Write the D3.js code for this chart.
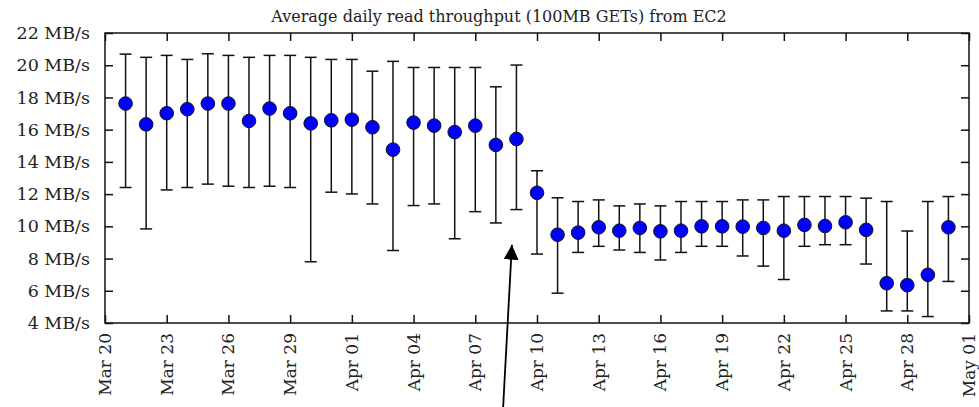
<!DOCTYPE html>
<html>
<head>
<meta charset="utf-8">
<script src="https://cdn.jsdelivr.net/npm/d3@7"></script>
<style>
  html, body { margin: 0; padding: 0; background: #fff; }
  svg { display: block; }
  text { font-family: "DejaVu Serif", "Liberation Serif", serif; fill: #222; }
</style>
</head>
<body>
<svg id="chart" width="979" height="407"></svg>
<script>
// ---- data ----
const title = "Average daily read throughput (100MB GETs) from EC2";
const days = ["Mar 21","Mar 22","Mar 23","Mar 24","Mar 25","Mar 26","Mar 27","Mar 28","Mar 29","Mar 30","Mar 31",
  "Apr 01","Apr 02","Apr 03","Apr 04","Apr 05","Apr 06","Apr 07","Apr 08","Apr 09","Apr 10",
  "Apr 11","Apr 12","Apr 13","Apr 14","Apr 15","Apr 16","Apr 17","Apr 18","Apr 19","Apr 20",
  "Apr 21","Apr 22","Apr 23","Apr 24","Apr 25","Apr 26","Apr 27","Apr 28","Apr 29","Apr 30"];
const meanMBs = [17.62,16.33,17.02,17.27,17.62,17.62,16.54,17.31,17.02,16.39,16.58,
  16.62,16.15,14.76,16.44,16.25,15.85,16.25,15.05,15.42,12.08,
  9.48,9.61,9.94,9.73,9.90,9.69,9.73,10.00,10.00,9.98,
  9.90,9.73,10.09,10.02,10.25,9.78,6.47,6.35,6.99,9.94];
const lowMBs = [12.41,9.84,12.26,12.41,12.62,12.49,12.41,12.49,12.41,7.80,12.12,
  12.01,11.39,8.50,11.29,11.39,9.23,10.91,10.21,11.04,8.28,
  5.85,8.38,8.76,8.53,8.38,7.91,8.38,8.76,8.76,8.16,
  7.53,6.70,8.76,8.86,8.86,7.66,4.75,4.75,4.40,6.58];
const highMBs = [20.69,20.49,20.61,20.36,20.71,20.61,20.49,20.61,20.61,20.49,20.36,
  20.36,19.63,20.24,19.86,19.86,19.86,19.86,18.66,20.01,13.45,
  11.77,11.54,11.64,11.27,11.39,11.27,11.54,11.54,11.54,11.64,
  11.64,11.85,11.85,11.85,11.85,11.75,11.54,9.71,11.54,11.85];
const yTicks = [4,6,8,10,12,14,16,18,20,22];
const xTickLabels = ["Mar 20","Mar 23","Mar 26","Mar 29","Apr 01","Apr 04","Apr 07","Apr 10",
  "Apr 13","Apr 16","Apr 19","Apr 22","Apr 25","Apr 28","May 01"];
// annotation arrow (in data units: days after Mar 20, MB/s)
const arrowTail = {day: 19.35, value: -1.3};
const arrowHead = {day: 19.78, value: 8.86};

// ---- layout ----
const W = 979, H = 407;
const m = {left: 105, right: 10, top: 33, bottom: 84};
const parse = s => d3.utcParse("%Y %b %d")("2009 " + s);
const xDomain = [parse(xTickLabels[0]), parse(xTickLabels[xTickLabels.length - 1])];

const svg = d3.select("#chart");
const x = d3.scaleUtc().domain(xDomain).range([m.left, W - m.right]);
const y = d3.scaleLinear().domain([4, 22]).range([H - m.bottom, m.top]);
const dayPos = n => new Date(xDomain[0].getTime() + n * 864e5);

const data = days.map((d, i) => ({date: parse(d), mean: meanMBs[i], lo: lowMBs[i], hi: highMBs[i]}));

// title
svg.append("text")
  .attr("x", 499).attr("y", 22)
  .attr("text-anchor", "middle")
  .style("font-size", "16px")
  .text(title);

// axes (inward ticks, mirrored)
const tickLen = 8;
const xTickVals = xTickLabels.map(parse);
const axisStyle = g => {
  g.select(".domain").remove();
  g.selectAll("line").attr("stroke", "#111").attr("stroke-width", 1.5);
};
svg.append("g").attr("transform", `translate(0,${H - m.bottom})`)
  .call(d3.axisBottom(x).tickValues(xTickVals).tickSize(-tickLen).tickFormat(""))
  .call(axisStyle);
svg.append("g").attr("transform", `translate(0,${m.top})`)
  .call(d3.axisTop(x).tickValues(xTickVals).tickSize(-tickLen).tickFormat(""))
  .call(axisStyle);
svg.append("g").attr("transform", `translate(${m.left},0)`)
  .call(d3.axisLeft(y).tickValues(yTicks).tickSize(-tickLen).tickFormat(""))
  .call(axisStyle);
svg.append("g").attr("transform", `translate(${W - m.right},0)`)
  .call(d3.axisRight(y).tickValues(yTicks).tickSize(-tickLen).tickFormat(""))
  .call(axisStyle);

// frame
svg.append("rect")
  .attr("x", m.left).attr("y", m.top)
  .attr("width", W - m.left - m.right).attr("height", H - m.top - m.bottom)
  .attr("fill", "none").attr("stroke", "#111").attr("stroke-width", 1.5);

// y labels
svg.append("g").selectAll("text").data(yTicks).join("text")
  .attr("x", m.left - 15).attr("y", d => y(d))
  .attr("dy", "0.35em").attr("text-anchor", "end")
  .style("font-size", "17.5px")
  .text(d => `${d} MB/s`);

// x labels (rotated)
svg.append("g").selectAll("text").data(xTickLabels).join("text")
  .attr("transform", d => `translate(${x(parse(d))},${H - m.bottom + 10}) rotate(-90)`)
  .attr("dy", "0.35em").attr("text-anchor", "end")
  .style("font-size", "17px")
  .text(d => d);

// error bars
const cap = 6;
const eb = svg.append("g").attr("stroke", "#111").attr("stroke-width", 1.5);
eb.selectAll(".v").data(data).join("line")
  .attr("x1", d => x(d.date)).attr("x2", d => x(d.date))
  .attr("y1", d => y(d.lo)).attr("y2", d => y(d.hi));
eb.selectAll(".t").data(data).join("line")
  .attr("x1", d => x(d.date) - cap).attr("x2", d => x(d.date) + cap)
  .attr("y1", d => y(d.hi)).attr("y2", d => y(d.hi));
eb.selectAll(".b").data(data).join("line")
  .attr("x1", d => x(d.date) - cap).attr("x2", d => x(d.date) + cap)
  .attr("y1", d => y(d.lo)).attr("y2", d => y(d.lo));

// points
svg.append("g").selectAll("circle").data(data).join("circle")
  .attr("cx", d => x(d.date)).attr("cy", d => y(d.mean))
  .attr("r", 6.8)
  .attr("fill", "#0000ff").attr("stroke", "#111").attr("stroke-width", 1);

// annotation arrow
const defs = svg.append("defs");
defs.append("marker").attr("id", "ah")
  .attr("viewBox", "0 0 10 10").attr("refX", 10).attr("refY", 5)
  .attr("markerWidth", 15).attr("markerHeight", 15).attr("markerUnits", "userSpaceOnUse")
  .attr("orient", "auto")
  .append("path").attr("d", "M0,0 L10,5 L0,10 Z").attr("fill", "#000");
svg.append("line")
  .attr("x1", x(dayPos(arrowTail.day))).attr("y1", y(arrowTail.value))
  .attr("x2", x(dayPos(arrowHead.day))).attr("y2", y(arrowHead.value))
  .attr("stroke", "#000").attr("stroke-width", 1.8)
  .attr("marker-end", "url(#ah)");
</script>
</body>
</html>
